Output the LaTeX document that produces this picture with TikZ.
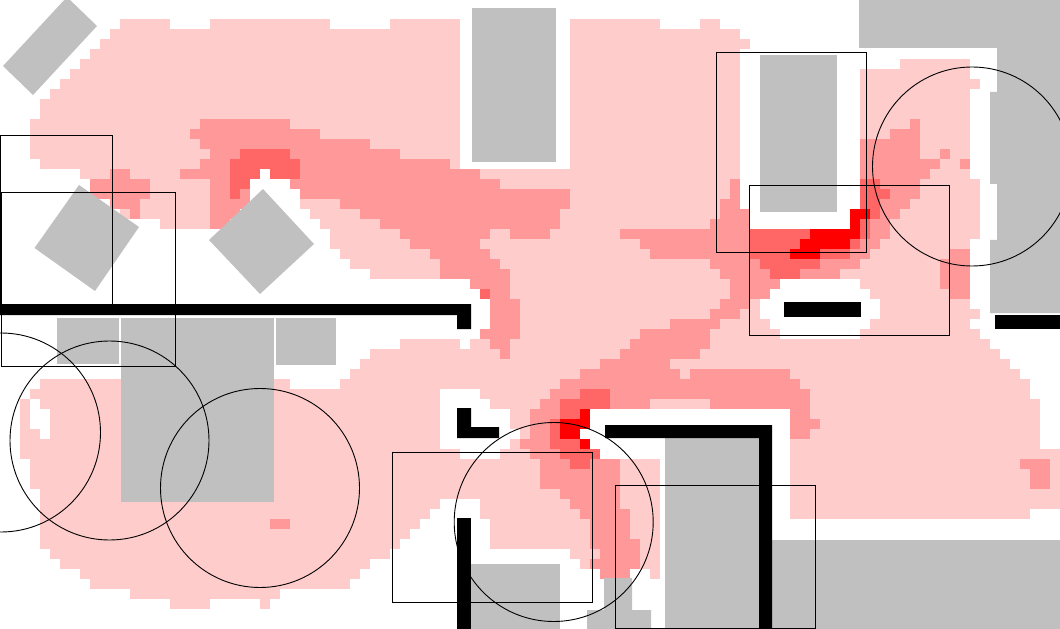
\documentclass[tikz,border=0pt]{standalone}
\definecolor{heatone}{HTML}{FFCCCC}
\definecolor{heattwo}{HTML}{FF9999}
\definecolor{heatthree}{HTML}{FF6666}
\definecolor{heatfour}{HTML}{FF0000}
\definecolor{furniture}{HTML}{C0C0C0}
\newcommand{\paintcells}[2]{\foreach \y/\a/\b in {#2} \fill[#1] (\a,\y) rectangle (\b,\y+10);}
\tikzset{
  solidpart/.style={fill=furniture},
  wallpart/.style={fill=black},
  sensorbox/.style={draw=black,line width=1bp},
  sensorarea/.style={draw=black,line width=0.9bp}
}
\begin{document}
\begin{tikzpicture}[x=1bp,y=-1bp]
\useasboundingbox (0,0) rectangle (1060,629);
% heat map, row by row
\paintcells{heatone}{19/120/170,19/210/330,19/390/460,19/570/660,19/700/720,
29/110/460,29/570/740,39/100/460,39/570/750,49/90/460,49/570/740,
59/80/460,59/570/740,59/900/970,69/70/460,69/570/740,69/860/970,
79/60/460,79/570/740,79/860/980,89/50/460,89/570/740,89/860/970,
99/40/460,99/570/740,99/860/970,109/40/460,109/570/740,109/860/970,
119/30/460,119/570/740,119/860/970,129/30/460,129/570/740,129/860/970,
139/30/460,139/570/740,139/860/970,149/30/460,149/570/740,149/860/970,
159/40/460,159/570/740,159/860/970,
169/80/260,169/270/740,169/860/970,
179/90/250,179/290/740,179/860/980,189/90/250,189/300/740,189/860/980,
199/110/250,199/300/740,199/860/980,209/120/240,209/310/750,209/860/980,
219/160/230,219/320/750,219/860/980,229/330/980,239/330/970,249/340/970,
259/350/970,269/370/970,279/470/780,279/860/970,289/480/770,289/870/970,
299/490/760,299/880/970,309/490/760,309/880/980,319/490/770,319/870/970,
329/480/780,329/860/980,339/400/460,339/470/990,349/370/1000,359/360/1010,
369/350/1020,379/40/290,379/340/1030,389/30/440,389/480/1030,
399/20/30,399/40/440,399/490/1040,409/20/30,409/50/440,409/510/590,409/790/1040,
419/20/30,419/50/440,419/510/590,419/790/1040,
429/20/40,429/50/440,429/520/580,429/790/1040,
439/20/440,439/510/590,439/790/1040,449/20/460,449/500/600,449/790/1060,
459/30/660,459/790/1060,469/30/660,469/790/1060,479/30/660,479/790/1060,
489/40/660,489/790/1060,499/40/440,499/480/660,499/790/1060,
509/40/430,509/480/660,509/790/1030,519/40/420,519/490/660,
529/40/410,529/490/660,539/40/400,539/490/660,549/50/390,549/570/660,
559/60/370,559/580/660,569/80/360,569/600/630,569/650/660,
579/90/350,589/130/280,599/170/210,599/260/270}
\paintcells{heattwo}{119/200/290,129/190/320,139/200/370,149/210/400,159/200/450,
169/110/130,169/180/260,169/270/480,179/90/150,179/210/250,179/290/500,
189/90/150,189/210/250,189/300/570,199/110/140,199/210/250,199/340/570,
209/130/140,209/210/240,209/360/560,219/210/230,219/380/560,
229/400/490,229/510/550,239/410/480,249/430/490,259/440/500,269/440/510,
279/470/510,289/490/510,299/490/520,309/490/520,319/490/520,329/480/520,
339/490/510,349/500/510,519/270/290,
119/910/920,129/890/920,139/860/920,149/860/920,149/940/950,
159/860/940,159/960/970,169/860/930,
179/730/740,179/860/920,189/730/740,189/860/920,199/720/740,199/860/910,
209/720/750,209/880/900,219/710/750,219/870/890,229/620/750,229/870/890,
239/640/750,239/860/880,249/650/750,249/850/870,249/950/970,
259/710/760,259/820/860,259/940/970,269/720/770,269/800/840,269/940/970,
279/730/780,279/940/970,289/730/770,289/950/970,299/720/750,309/710/740,
319/670/720,329/640/710,339/630/710,349/620/700,359/600/670,
369/580/680,369/690/790,379/560/800,389/550/810,399/540/650,399/710/810,
409/530/560,409/790/810,419/530/550,419/790/820,429/530/550,429/790/810,
439/520/550,449/530/560,459/540/570,459/590/620,469/540/620,479/540/620,
489/560/620,499/570/620,509/580/630,519/590/630,529/590/630,539/590/640,
549/600/640,559/590/640,569/600/630,
459/1020/1050,469/1030/1050,479/1030/1050}
\paintcells{heatthree}{149/240/290,159/230/300,169/230/260,169/270/300,179/230/250,189/230/240,
179/860/880,189/860/890,199/860/880,209/870/880,219/860/870,
229/750/810,229/860/870,239/750/800,239/850/860,249/750/790,249/820/850,
259/760/820,269/770/800,289/480/490,
389/580/610,399/560/610,409/560/580,419/550/560,429/550/560,439/550/580,
449/560/600,459/570/590}
\paintcells{heatfour}{209/850/870,219/850/860,229/810/860,239/800/850,249/790/820,
409/580/590,419/560/590,429/560/580,439/580/590}
% furniture
\fill[solidpart] (67,-3)--(97,26)--(33,95)--(3,66)--cycle;
\fill[solidpart] (79,185)--(139,227)--(95,291)--(34.5,248)--cycle;
\fill[solidpart] (263,189)--(314,244)--(260,294)--(209,240)--cycle;
\fill[solidpart] (472,8) rectangle (556,162);
\fill[solidpart] (760,55) rectangle (837,212);
\fill[solidpart] (859,0)--(1060,0)--(1060,313)--(990,313)--(990,240)--(997,240)--(997,184)--(990,184)--(990,92)--(997,92)--(997,48)--(859,48)--cycle;
\fill[solidpart] (57,318) rectangle (119,364);
\fill[solidpart] (121,318) rectangle (274,502);
\fill[solidpart] (276,318) rectangle (336,365);
\fill[solidpart] (471,564) rectangle (560,629);
\fill[solidpart] (604,578)--(632,578)--(632,610)--(651,610)--(651,629)--(587,629)--(587,610)--(604,610)--cycle;
\fill[solidpart] (665,438) rectangle (759,629);
\fill[solidpart] (772,540) rectangle (1060,629);
% walls
\fill[wallpart] (0,304)--(471,304)--(471,329)--(457,329)--(457,315)--(0,315)--cycle;
\fill[wallpart] (457,408)--(471,408)--(471,427)--(499,427)--(499,438)--(457,438)--cycle;
\fill[wallpart] (457,518) rectangle (471,629);
\fill[wallpart] (605,425)--(772,425)--(772,629)--(759,629)--(759,438)--(605,438)--cycle;
\fill[wallpart] (784,302) rectangle (861,317);
\fill[wallpart] (995,315) rectangle (1060,329);
% sensors
\draw[sensorbox] (0.5,135.5) rectangle (112.5,310);
\draw[sensorbox] (1.5,192.5) rectangle (175.5,366);
\draw[sensorbox] (716.5,52.5) rectangle (866.5,252.5);
\draw[sensorbox] (749.5,185.5) rectangle (949.5,335.5);
\draw[sensorbox] (392.5,452.5) rectangle (592.5,602.5);
\draw[sensorbox] (615.5,485.5) rectangle (815.5,628.5);
\draw[sensorarea] (972,166.5) circle (99.5);
\draw[sensorarea] (1,432.5) circle (99.5);
\draw[sensorarea] (109.5,440.5) circle (99.5);
\draw[sensorarea] (260,488) circle (99.5);
\draw[sensorarea] (553.7,522) circle (99.5);
\end{tikzpicture}
\end{document}
